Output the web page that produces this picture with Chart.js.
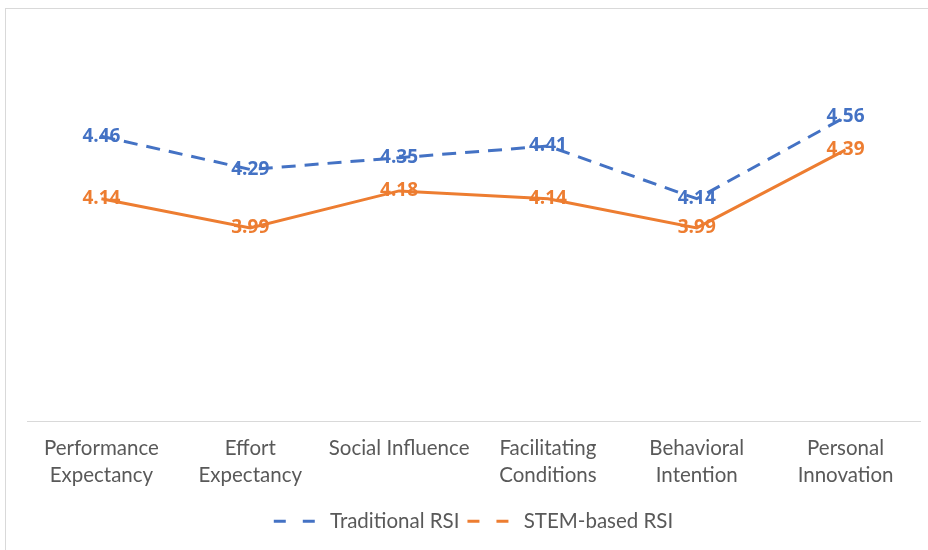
<!DOCTYPE html>
<html>
<head>
<meta charset="utf-8">
<script src="https://cdn.jsdelivr.net/npm/chart.js@4"></script>
<style>
  html, body { margin: 0; padding: 0; background: #fff; overflow: hidden; }
  #frame {
    position: absolute; left: 5px; top: 8px;
    width: 930px; height: 560px;
    border-left: 1px solid #d9d9d9; border-top: 1px solid #d9d9d9;
  }
  #wrap { position: absolute; left: 0; top: 0; width: 922px; height: 542px; }
</style>
</head>
<body>
<div id="frame"><div id="wrap"><canvas id="chart"></canvas></div></div>
<script>
// ── datos ──
const categorias = [
    ["Performance", "Expectancy"],
    ["Effort", "Expectancy"],
    "Social Influence",
    ["Facilitating", "Conditions"],
    ["Behavioral", "Intention"],
    ["Personal", "Innovation"]
];
const tradicional = [4.46, 4.29, 4.35, 4.41, 4.14, 4.56];
const stem = [4.14, 3.99, 4.18, 4.14, 3.99, 4.39];

const AZUL = "#4472C4";
const NARANJA = "#ED7D31";
const GRIS = "#595959";
const FUENTE = "Lato, 'Liberation Sans', sans-serif";

// etiquetas de valor centradas sobre cada punto
const etiquetas = {
    id: "etiquetas",
    afterDatasetsDraw(chart) {
        const ctx = chart.ctx;
        chart.data.datasets.forEach((ds, i) => {
            const meta = chart.getDatasetMeta(i);
            ctx.save();
            ctx.font = "bold 19px 'Open Sans', sans-serif";
            ctx.fillStyle = ds.borderColor;
            ctx.textAlign = "center";
            ctx.textBaseline = "middle";
            meta.data.forEach((pt, j) => {
                ctx.fillText(ds.data[j].toFixed(2), pt.x, pt.y);
            });
            ctx.restore();
        });
    }
};

document.addEventListener("DOMContentLoaded", () => {
    const ctx = document.getElementById("chart").getContext("2d");

    new Chart(ctx, {
        type: "line",
        data: {
            labels: categorias,
            datasets: [{
                label: "Traditional RSI",
                data: tradicional,
                borderColor: AZUL,
                backgroundColor: AZUL,
                borderWidth: 3,
                borderDash: [14, 9],
                pointRadius: 0,
                tension: 0
            }, {
                label: "STEM-based RSI",
                data: stem,
                borderColor: NARANJA,
                backgroundColor: NARANJA,
                borderWidth: 3,
                pointRadius: 0,
                tension: 0
            }]
        },
        options: {
            responsive: true,
            maintainAspectRatio: false,
            animation: false,
            layout: { padding: { left: 21, right: 8, top: 22, bottom: 9.5 } },
            plugins: {
                tooltip: { enabled: false },
                legend: {
                    position: "bottom",
                    labels: {
                        color: GRIS,
                        font: { family: FUENTE, size: 20.5 },
                        usePointStyle: true,
                        pointStyle: "line",
                        pointStyleWidth: 46,
                        padding: 8,
                        generateLabels(chart) {
                            return chart.data.datasets.map((ds, i) => ({
                                text: ds.label,
                                fillStyle: ds.borderColor,
                                strokeStyle: ds.borderColor,
                                fontColor: GRIS,
                                lineWidth: 3,
                                lineDash: [12, 17],
                                pointStyle: "line",
                                datasetIndex: i
                            }));
                        }
                    }
                }
            },
            scales: {
                x: {
                    offset: true,
                    grid: { display: false, drawTicks: false },
                    border: { color: "#d9d9d9", width: 1 },
                    ticks: {
                        color: GRIS,
                        font: { family: FUENTE, size: 20.5, lineHeight: "27px" },
                        padding: 14,
                        maxRotation: 0,
                        autoSkip: false
                    }
                },
                y: {
                    display: false,
                    min: 3,
                    max: 5
                }
            }
        },
        plugins: [etiquetas]
    });
});
</script>
</body>
</html>
